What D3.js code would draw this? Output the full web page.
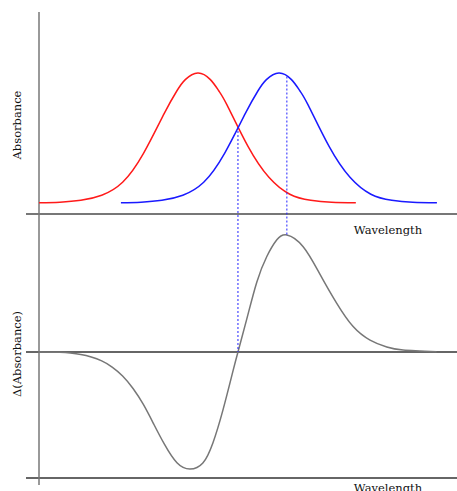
<!DOCTYPE html>
<html>
<head>
<meta charset="utf-8">
<script src="https://cdn.jsdelivr.net/npm/d3@7"></script>
<style>
  html, body { margin: 0; padding: 0; background: #fff; }
  svg { display: block; }
  text { font-family: "DejaVu Serif", "Liberation Serif", serif; font-size: 11.5px; fill: #111; }
</style>
</head>
<body>
<svg id="chart" width="457" height="491"></svg>
<script>
// ---- data (wavelength in arbitrary units 0..100) ----
const redX   = [0, 5, 10, 15, 20, 25, 30, 33, 35, 38, 41, 43, 45, 50, 55, 60, 65, 70, 75.8];
const redA   = [0.079, 0.084, 0.097, 0.133, 0.225, 0.43, 0.715, 0.874, 0.953, 1.0, 0.953, 0.874, 0.772, 0.479, 0.26, 0.14, 0.097, 0.083, 0.079];

const blueX  = [19.6, 24.4, 29.4, 34.4, 39.4, 44.4, 49.4, 52.4, 54.4, 57.4, 60.4, 62.4, 64.4, 69.4, 74.4, 79.4, 84.4, 89.4, 95.2];
const blueA  = [0.079, 0.084, 0.097, 0.133, 0.225, 0.43, 0.715, 0.874, 0.953, 1.0, 0.953, 0.874, 0.772, 0.479, 0.26, 0.14, 0.097, 0.083, 0.079];

const diffX  = [0, 5, 7.5, 10, 12.5, 15, 17.5, 20, 22.5, 25, 27.5, 30, 33.0, 36.1,
                39.2, 41.6, 44.0, 46.4, 47.6, 49.7, 52.1, 54.5, 56.9, 59.3,
                63.2, 67.2, 71.2, 75.1, 79.2, 83.2, 87.1, 95.1];
const diffD  = [0, -0.003, -0.009, -0.0215, -0.043, -0.077, -0.1295, -0.207, -0.3145, -0.4545, -0.625, -0.795, -0.955, -1.009,
                -0.957, -0.784, -0.501, -0.165, 0, 0.283, 0.602, 0.823, 0.967, 1.009,
                0.908, 0.672, 0.422, 0.222, 0.103, 0.043, 0.017, 0.003];

const dashX       = [47.6, 59.3];
const dashTopA    = [0.617, 0.975];
const dashBottomD = [0, 1.009];

const labels = { topY: "Absorbance", bottomY: "\u0394(Absorbance)", x: "Wavelength" };

// ---- scales ----
const svg = d3.select("#chart");
const x = d3.scaleLinear().domain([0, 100]).range([39, 457]);
const yTop = d3.scaleLinear().domain([0, 1]).range([214, 73]);
const yBot = d3.scaleLinear().domain([-1, 1]).range([468, 236]);

const zip = (xs, ys) => xs.map((v, i) => [v, ys[i]]);

// ---- axes lines ----
const axLeft = 26, axRight = 457;
svg.append("line").attr("x1", axLeft).attr("x2", axRight)
   .attr("y1", yTop(0)).attr("y2", yTop(0))
   .attr("stroke", "#777").attr("stroke-width", 2);
svg.append("line").attr("x1", axLeft).attr("x2", axRight)
   .attr("y1", yBot(0)).attr("y2", yBot(0))
   .attr("stroke", "#333").attr("stroke-width", 1.3);
svg.append("line").attr("x1", axLeft).attr("x2", axRight)
   .attr("y1", yBot(-1.086)).attr("y2", yBot(-1.086))
   .attr("stroke", "#333").attr("stroke-width", 1.3);
svg.append("line").attr("x1", x(0)).attr("x2", x(0))
   .attr("y1", 12).attr("y2", 485)
   .attr("stroke", "#777").attr("stroke-width", 1.5);

// ---- curves ----
const lineTop = d3.line().x(d => x(d[0])).y(d => yTop(d[1])).curve(d3.curveNatural);
const lineBot = d3.line().x(d => x(d[0])).y(d => yBot(d[1])).curve(d3.curveNatural);

svg.append("path").datum(zip(redX, redA)).attr("d", lineTop)
   .attr("fill", "none").attr("stroke", "#ff1a1a").attr("stroke-width", 1.5);
svg.append("path").datum(zip(blueX, blueA)).attr("d", lineTop)
   .attr("fill", "none").attr("stroke", "#1a1aff").attr("stroke-width", 1.5);
svg.append("path").datum(zip(diffX, diffD)).attr("d", lineBot)
   .attr("fill", "none").attr("stroke", "#777").attr("stroke-width", 1.5);

// ---- dashed guides ----
dashX.forEach((v, i) => {
  svg.append("line")
     .attr("x1", x(v)).attr("x2", x(v))
     .attr("y1", yTop(dashTopA[i])).attr("y2", yBot(dashBottomD[i]))
     .attr("stroke", "#2222ff").attr("stroke-width", 1)
     .attr("stroke-dasharray", "2,2");
});

// ---- labels ----
svg.append("text").attr("transform", "translate(20.5," + 125 + ") rotate(-90)")
   .attr("text-anchor", "middle").text(labels.topY);
svg.append("text").attr("transform", "translate(20.5," + 354 + ") rotate(-90)")
   .attr("text-anchor", "middle").text(labels.bottomY);
svg.append("text").attr("x", 388).attr("y", 233.5)
   .attr("text-anchor", "middle").text(labels.x);
svg.append("text").attr("x", 388).attr("y", 491.5)
   .attr("text-anchor", "middle").text(labels.x);
</script>
</body>
</html>
